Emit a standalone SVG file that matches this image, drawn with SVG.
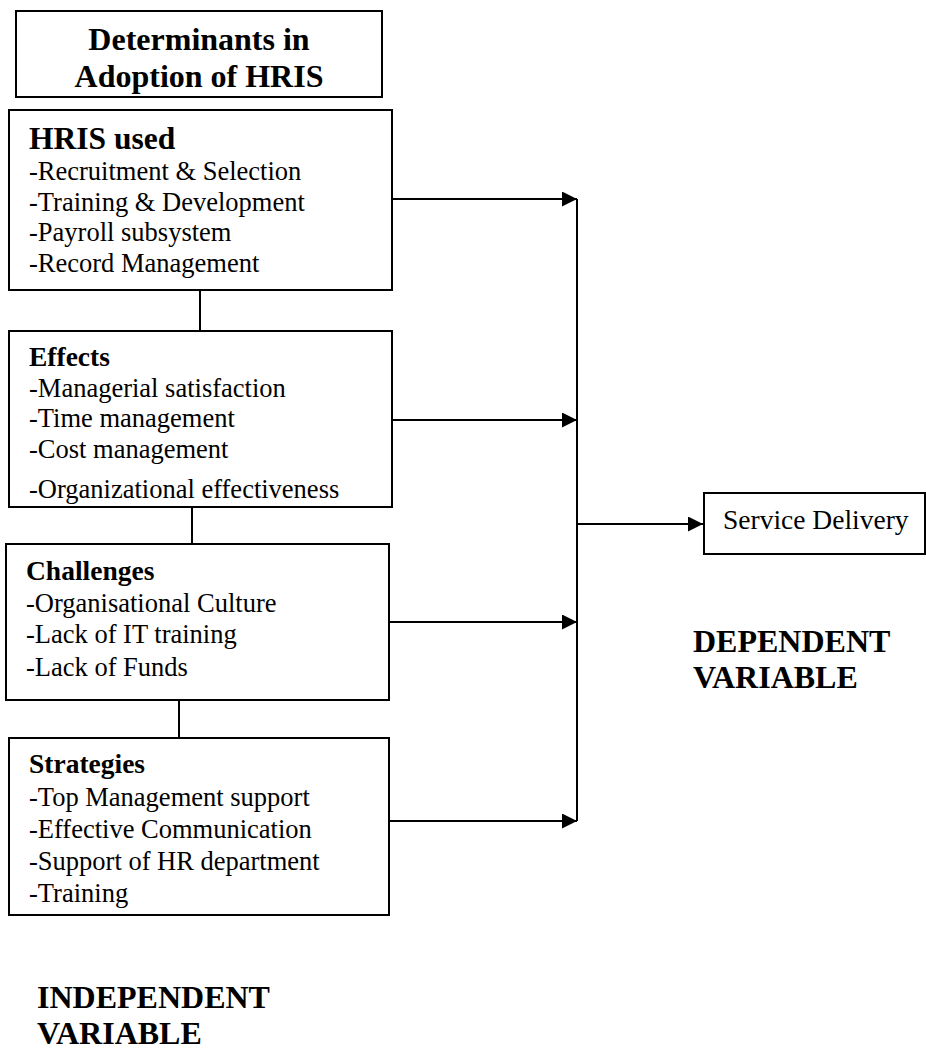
<svg xmlns="http://www.w3.org/2000/svg" width="926" height="1051" viewBox="0 0 926 1051">
  <style>
    .box { fill: #ffffff; stroke: #000000; stroke-width: 2; }
    .line { fill: none; stroke: #000000; stroke-width: 2; }
    text { font-family: "Liberation Serif", "Times New Roman", serif; fill: #000000; }
    .title { font-size: 32px; font-weight: bold; text-anchor: middle; }
    .head { font-size: 31.5px; font-weight: bold; }
    .sub { font-size: 27.5px; font-weight: bold; }
    .item { font-size: 26.5px; }
    .label { font-size: 32px; font-weight: bold; }
  </style>
  <defs>
    <marker id="arrow" viewBox="0 0 15 15" refX="15" refY="7.5" markerWidth="15" markerHeight="15" markerUnits="userSpaceOnUse" orient="auto">
      <path d="M0,0 L15,7.5 L0,15 Z" fill="#000000"/>
    </marker>
  </defs>
  <rect width="926" height="1051" fill="#ffffff"/>

  <!-- connectors -->
  <g id="connectors">
    <line class="line" x1="200" y1="291" x2="200" y2="331"/>
    <line class="line" x1="192" y1="507" x2="192" y2="544"/>
    <line class="line" x1="179" y1="700" x2="179" y2="738"/>
    <line class="line" x1="577" y1="199" x2="577" y2="821"/>
    <line class="line" x1="392" y1="199" x2="577" y2="199" marker-end="url(#arrow)"/>
    <line class="line" x1="392" y1="420" x2="577" y2="420" marker-end="url(#arrow)"/>
    <line class="line" x1="389" y1="622" x2="577" y2="622" marker-end="url(#arrow)"/>
    <line class="line" x1="389" y1="821" x2="577" y2="821" marker-end="url(#arrow)"/>
    <line class="line" x1="577" y1="524" x2="703" y2="524" marker-end="url(#arrow)"/>
  </g>

  <g id="title">
    <rect class="box" x="16" y="11" width="366" height="86"/>
    <text class="title" x="199" y="50">Determinants in</text>
    <text class="title" x="199" y="87">Adoption of HRIS</text>
  </g>

  <g id="hris-used">
    <rect class="box" x="9" y="110" width="383" height="180"/>
    <text class="head" x="29" y="149">HRIS used</text>
    <text class="item" x="29" y="180">-Recruitment &amp; Selection</text>
    <text class="item" x="29" y="211">-Training &amp; Development</text>
    <text class="item" x="29" y="241">-Payroll subsystem</text>
    <text class="item" x="29" y="272">-Record Management</text>
  </g>

  <g id="effects">
    <rect class="box" x="9" y="331" width="383" height="176"/>
    <text class="sub" x="29" y="366">Effects</text>
    <text class="item" x="29" y="397">-Managerial satisfaction</text>
    <text class="item" x="29" y="427">-Time management</text>
    <text class="item" x="29" y="458">-Cost management</text>
    <text class="item" x="29" y="498">-Organizational effectiveness</text>
  </g>

  <g id="challenges">
    <rect class="box" x="6" y="544" width="383" height="156"/>
    <text class="sub" x="26" y="580">Challenges</text>
    <text class="item" x="26" y="612">-Organisational Culture</text>
    <text class="item" x="26" y="643">-Lack of IT training</text>
    <text class="item" x="26" y="676">-Lack of Funds</text>
  </g>

  <g id="strategies">
    <rect class="box" x="9" y="738" width="380" height="177"/>
    <text class="sub" x="29" y="773">Strategies</text>
    <text class="item" x="29" y="806">-Top Management support</text>
    <text class="item" x="29" y="838">-Effective Communication</text>
    <text class="item" x="29" y="870">-Support of HR department</text>
    <text class="item" x="29" y="902">-Training</text>
  </g>

  <g id="service-delivery">
    <rect class="box" x="704" y="493" width="221" height="61"/>
    <text class="item" x="723" y="529" style="font-size:27.5px">Service Delivery</text>
  </g>

  <g id="dependent-label">
    <text class="label" x="693" y="652">DEPENDENT</text>
    <text class="label" x="693" y="688">VARIABLE</text>
  </g>

  <g id="independent-label">
    <text class="label" x="37" y="1008">INDEPENDENT</text>
    <text class="label" x="37" y="1044">VARIABLE</text>
  </g>
</svg>
